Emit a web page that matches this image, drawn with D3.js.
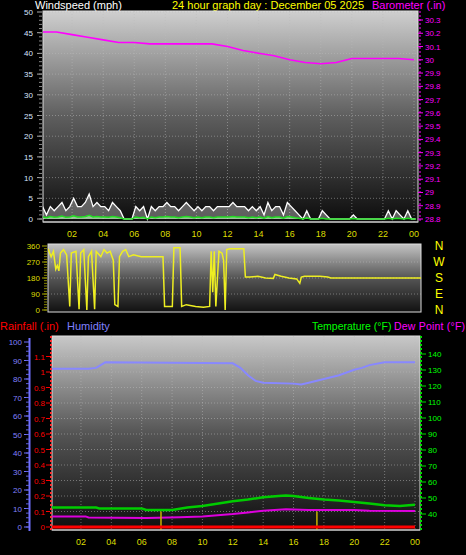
<!DOCTYPE html><html><head><meta charset="utf-8">
<script src="https://cdn.jsdelivr.net/npm/d3@7"></script>
<style>body{margin:0;background:#000}svg{display:block;font-family:"Liberation Sans",Arial,sans-serif}</style></head><body>
<svg id="c" width="466" height="555"></svg>
<script>
const hourLabels=["02","04","06","08","10","12","14","16","18","20","22","00"];
const windTicks=[0,5,10,15,20,25,30,35,40,45,50];
const baroTicks=[28.8,28.9,29,29.1,29.2,29.3,29.4,29.5,29.6,29.7,29.8,29.9,30,30.1,30.2,30.3];
const dirTicks=[0,90,180,270,360];
const compass=["N","W","S","E","N"];
const humTicks=[0,10,20,30,40,50,60,70,80,90,100];
const rainTicks=[0,0.1,0.2,0.3,0.4,0.5,0.6,0.7,0.8,0.9,1,1.1];
const tempTicks=[40,50,60,70,80,90,100,110,120,130,140];
const baroH=[0,1,2,3,4,5,6,7,8,9,10,11,12,13,14,15,16,17,18,19,20,21,22,23,24];
const baroV=[30.21,30.21,30.19,30.17,30.15,30.13,30.13,30.12,30.12,30.12,30.12,30.12,30.1,30.07,30.05,30.03,30.0,29.98,29.97,29.98,30.01,30.01,30.01,30.01,30.0];
const gust=[3,1,3,2,3,4,2,3,5,3,3,4,6,3,4,3,3,2,4,3,2,0,0,0,3,2,3,0,3,2,3,3,4,3,3,2,3,4,3,2,3,2,3,3,2,3,3,3,3,4,3,3,3,2,3,2,3,1,4,2,3,3,1,4,3,2,1,0,2,0,0,0,2,1,0,0,0,0,0,0,1,0,0,0,0,0,0,0,0,2,0,2,1,0,2,0,0];
const avgW=[0.5,0.3,0.6,0.4,0.5,0.7,0.4,0.5,0.8,0.5,0.5,0.6,0.9,0.5,0.6,0.5,0.5,0.4,0.6,0.5,0.3,0,0,0,0.5,0.3,0.4,0,0.5,0.3,0.5,0.5,0.6,0.5,0.5,0.3,0.5,0.6,0.5,0.3,0.5,0.3,0.5,0.5,0.3,0.5,0.5,0.5,0.5,0.6,0.5,0.5,0.5,0.3,0.5,0.3,0.5,0.2,0.6,0.3,0.5,0.5,0.2,0.6,0.5,0.3,0.2,0,0.3,0,0,0,0.2,0,0,0,0,0,0,0,0.1,0,0,0,0,0,0,0,0,0.2,0,0.2,0.1,0,0.2,0,0];
const dirH=[0,0.2,0.35,0.5,0.6,0.7,0.8,1.0,1.2,1.4,1.5,1.8,2.0,2.1,2.3,2.5,2.6,2.8,3.0,3.1,3.4,3.6,3.8,4.0,4.2,4.3,4.5,4.6,4.8,5.0,5.2,5.5,6.0,7.0,7.4,7.5,8.0,8.1,8.5,8.6,8.9,9.5,10.0,10.4,10.5,10.6,10.7,10.8,11.0,11.2,11.3,11.4,11.5,11.7,12.0,12.6,12.7,13.0,13.5,14.0,14.5,14.6,15.0,15.5,16.0,16.2,16.3,16.5,17.0,17.5,18.0,18.2,20,24];
const dirV=[345,300,330,230,250,220,320,340,310,20,320,330,5,320,340,0,300,330,5,330,300,340,320,330,280,30,20,300,330,340,300,310,300,300,300,20,20,350,350,20,30,20,15,20,330,100,330,20,330,320,280,0,340,345,345,345,185,185,190,180,178,200,190,180,175,150,185,190,190,190,185,180,180,180];
const tempH=[0,3,3.2,6,6.3,8,9,10,12,13,14,15,15.5,16,17,18,19,20,21,22,23,24];
const tempV=[44,44,43.5,43.5,42.5,42.5,44,45,48,49,50.5,51.3,51.5,51.2,50,49,48.5,47.5,46.5,45.5,45,45.8];
const dewH=[0,2.3,2.5,6.3,8.5,10,12,13,14,15.5,17,20,21,24];
const dewV=[38.5,38.5,37.8,37.5,38,38.5,40,41,42,43,42.5,42.5,42,41.8];
const humH=[0,2.5,3.0,3.3,3.6,12.0,12.5,13,13.5,14,16,16.5,17,18,19,20,20.5,21,22,24];
const humV=[85.5,85.5,86,87.5,89,88.5,86,82,79,78,77.5,77,78,80,82,85,86,87.5,89,89];
const rainH=[0,24];const rainV=[0,0];
const markH=[7.27,17.54];const markV=[0.1,0.1];

const svg=d3.select("#c");
const defs=svg.append("defs");
function grad(id,stops){const g=defs.append("linearGradient").attr("id",id).attr("x1",0).attr("x2",0).attr("y1",0).attr("y2",1);stops.forEach(s=>g.append("stop").attr("offset",s[0]).attr("stop-color",s[1]));}
grad("g1",[[0,"#cfcfcf"],[0.5,"#5e5e5e"],[1,"#0c0c0c"]]);
grad("g2",[[0,"#c4c4c4"],[0.5,"#555"],[1,"#111"]]);
grad("g3",[[0,"#c8c8c8"],[0.5,"#555"],[1,"#0e0e0e"]]);
function panel(x0,y0,x1,y1,g,id){
  svg.append("rect").attr("x",x0).attr("y",y0).attr("width",x1-x0).attr("height",y1-y0).attr("fill","url(#"+g+")").attr("stroke","#ddd").attr("stroke-width",1);
  defs.append("clipPath").attr("id",id).append("rect").attr("x",x0).attr("y",y0).attr("width",x1-x0).attr("height",y1-y0);
}
function vgrid(x,y0,y1){hourLabels.forEach((l,i)=>svg.append("line").attr("x1",x((i+1)*2)).attr("x2",x((i+1)*2)).attr("y1",y0).attr("y2",y1).attr("stroke","#bbb").attr("stroke-opacity",0.5).attr("stroke-dasharray","1,2"));}
function hgrid(ys,x0,x1){ys.forEach(y=>svg.append("line").attr("x1",x0).attr("x2",x1).attr("y1",y).attr("y2",y).attr("stroke","#bbb").attr("stroke-opacity",0.5).attr("stroke-dasharray","1,2"));}
function txt(x,y,t,c,a,fs){return svg.append("text").attr("x",x).attr("y",y).text(t).attr("fill",c).attr("text-anchor",a||"start").attr("font-size",fs||10);}
function hourAxis(x,y){hourLabels.forEach((l,i)=>txt(x((i+1)*2),y,l,"#dddd00","middle",9));}

txt(35,9,"Windspeed (mph)","#fff","start",11);
txt(172,9,"24 hour graph day : December 05 2025","#ffff00","start",11);
txt(372,9,"Barometer (.in)","#ff00ff","start",11);

const x1=d3.scaleLinear().domain([0,24]).range([41,414]);
const yW=d3.scaleLinear().domain([0,50]).range([219,12]);
const yB=d3.scaleLinear().domain([28.8,30.3]).range([219,20]);
panel(43,11,418,222,"g1","cp1");
vgrid(x1,11,222);hgrid(windTicks.slice(1).map(yW),43,418);
windTicks.forEach(t=>{txt(33,yW(t)+3,t,"#d8e4ff","end",8);svg.append("line").attr("x1",37).attr("x2",42).attr("y1",yW(t)).attr("y2",yW(t)).attr("stroke","#aaa");});
d3.range(0,50,1).forEach(t=>svg.append("line").attr("x1",39).attr("x2",42).attr("y1",yW(t)).attr("y2",yW(t)).attr("stroke","#888"));
baroTicks.forEach(t=>{txt(425,yB(t)+3,+t.toFixed(1),"#ff00ff","start",8);svg.append("line").attr("x1",418).attr("x2",423).attr("y1",yB(t)).attr("y2",yB(t)).attr("stroke","#ff00ff");});
svg.append("line").attr("x1",420).attr("x2",420).attr("y1",11).attr("y2",222).attr("stroke","#ff00ff").attr("stroke-dasharray","2,2");
const wx=i=>x1(i/4+0.1);
const gc=svg.append("g").attr("clip-path","url(#cp1)");
gc.append("path").datum(gust).attr("d",d3.area().x((d,i)=>wx(i)).y0(yW(0)).y1(d=>yW(d))).attr("fill","#f0f0f0").attr("fill-opacity",0.35);
gc.append("path").datum(gust).attr("d",d3.line().x((d,i)=>wx(i)).y(d=>yW(d))).attr("fill","none").attr("stroke","#fff").attr("stroke-width",1.3);
gc.append("path").datum(avgW).attr("d",d3.area().x((d,i)=>wx(i)).y0(yW(0)).y1(d=>yW(d))).attr("fill","#b6f0b6").attr("fill-opacity",0.7);
gc.append("path").datum(avgW).attr("d",d3.line().x((d,i)=>wx(i)).y(d=>yW(d))).attr("fill","none").attr("stroke","#22dd22").attr("stroke-width",1.5);
gc.append("path").datum(baroV).attr("d",d3.line().x((d,i)=>x1(baroH[i])).y(d=>yB(d))).attr("fill","none").attr("stroke","#ff00ff").attr("stroke-width",1.6);
svg.append("line").attr("x1",43).attr("x2",418).attr("y1",222).attr("y2",222).attr("stroke","#ccc");
hourAxis(x1,237);

const x2=d3.scaleLinear().domain([0,24]).range([48,421]);
const yD=d3.scaleLinear().domain([0,360]).range([310,246]);
panel(48,244,421,312,"g2","cp2");
hgrid([90,180,270].map(yD),48,421);
dirTicks.forEach(t=>{txt(40,yD(t)+3,t,"#dddd00","end",8);svg.append("line").attr("x1",42).attr("x2",47).attr("y1",yD(t)).attr("y2",yD(t)).attr("stroke","#aa0");});
d3.range(0,360,15).forEach(t=>svg.append("line").attr("x1",44).attr("x2",47).attr("y1",yD(t)).attr("y2",yD(t)).attr("stroke","#880"));
svg.append("g").attr("clip-path","url(#cp2)").append("path").datum(dirV).attr("d",d3.line().x((d,i)=>x2(dirH[i])).y(d=>yD(d))).attr("fill","none").attr("stroke","#eeee22").attr("stroke-width",1.5);
compass.forEach((c,i)=>txt(439,yD(360-i*90)+4,c,"#ffff00","middle",12));

txt(0,330,"Rainfall (.in)","#ff0000","start",11);
txt(67,330,"Humidity","#8080ff","start",11);
txt(312,330,"Temperature (°F)","#00ff00","start",10.5);
txt(394,330,"Dew Point (°F)","#ff00ff","start",10.5).attr("textLength",71);
const x3=d3.scaleLinear().domain([0,24]).range([50.6,415]);
const yH=d3.scaleLinear().domain([0,100]).range([527,342]);
const yR=d3.scaleLinear().domain([0,0.6]).range([527,434]);
const yT=d3.scaleLinear().domain([40,90]).range([514,434]);
panel(52,336,420,530,"g3","cp3");
vgrid(x3,336,530);hgrid(rainTicks.slice(1).map(yR),52,420);
svg.append("line").attr("x1",29.5).attr("x2",29.5).attr("y1",338).attr("y2",531).attr("stroke","#7070ff").attr("stroke-width",2);
humTicks.forEach(t=>{txt(22,yH(t)+3,t,"#8080ff","end",8);svg.append("line").attr("x1",24).attr("x2",29).attr("y1",yH(t)).attr("y2",yH(t)).attr("stroke","#7070ff");});
d3.range(0,100,2.5).forEach(t=>svg.append("line").attr("x1",26).attr("x2",29).attr("y1",yH(t)).attr("y2",yH(t)).attr("stroke","#6060dd"));
svg.append("line").attr("x1",51).attr("x2",51).attr("y1",336).attr("y2",530).attr("stroke","#ff3030").attr("stroke-dasharray","2,2").attr("stroke-width",2);
rainTicks.forEach(t=>{txt(45,yR(t)+3,+t.toFixed(1),"#ff0000","end",8);svg.append("line").attr("x1",46).attr("x2",50).attr("y1",yR(t)).attr("y2",yR(t)).attr("stroke","#f00");});
svg.append("line").attr("x1",421).attr("x2",421).attr("y1",336).attr("y2",530).attr("stroke","#00dd00").attr("stroke-dasharray","2,2").attr("stroke-width",2);
tempTicks.forEach(t=>{txt(428,yT(t)+3,t,"#00ff00","start",8);svg.append("line").attr("x1",421).attr("x2",426).attr("y1",yT(t)).attr("y2",yT(t)).attr("stroke","#0d0");});
const bc=svg.append("g").attr("clip-path","url(#cp3)");
bc.append("path").datum(humV).attr("d",d3.line().x((d,i)=>x3(humH[i])).y(d=>yH(d))).attr("fill","none").attr("stroke","#8888ff").attr("stroke-width",2);
bc.append("path").datum(tempV).attr("d",d3.line().x((d,i)=>x3(tempH[i])).y(d=>yT(d))).attr("fill","none").attr("stroke","#00cc00").attr("stroke-width",2.5);
bc.append("path").datum(dewV).attr("d",d3.line().x((d,i)=>x3(dewH[i])).y(d=>yT(d))).attr("fill","none").attr("stroke","#dd00dd").attr("stroke-width",2);
markH.forEach((h,i)=>bc.append("line").attr("x1",x3(h)).attr("x2",x3(h)).attr("y1",yR(markV[i])).attr("y2",530).attr("stroke","#c8b400").attr("stroke-width",1.5));
bc.append("path").datum(rainV).attr("d",d3.line().x((d,i)=>x3(rainH[i])).y(d=>yR(d))).attr("fill","none").attr("stroke","#ff0000").attr("stroke-width",3);
svg.append("line").attr("x1",52).attr("x2",420).attr("y1",530).attr("y2",530).attr("stroke","#ccc");
hourAxis(x3,545);
</script></body></html>
